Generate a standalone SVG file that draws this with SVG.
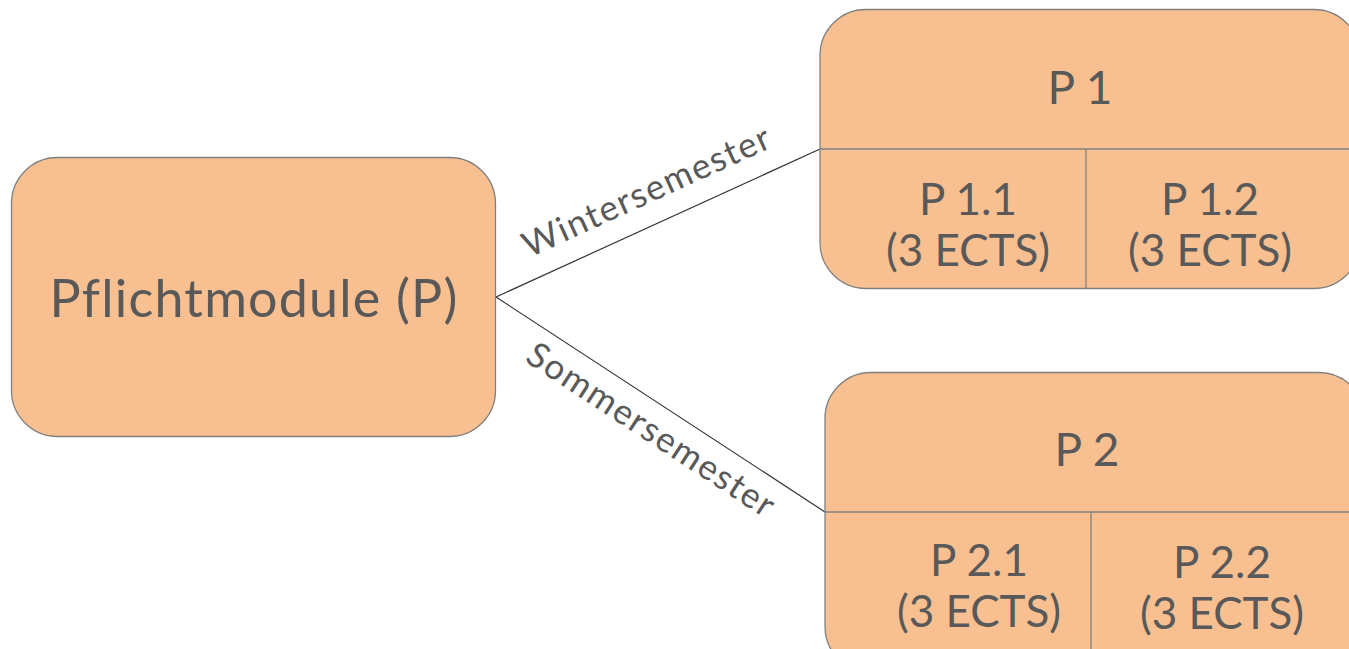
<svg xmlns="http://www.w3.org/2000/svg" width="1349" height="649" viewBox="0 0 1349 649">
<style>
.box{fill:#F8C090;stroke:#808080;stroke-width:1.3}
.div{stroke:#808080;stroke-width:1.3;fill:none}
.t{font-family:Lato,"Open Sans",sans-serif;fill:#595959;text-anchor:middle}
.lbl{letter-spacing:1.6px}
.conn{stroke:#333;stroke-width:1.2;fill:none}
</style>
<rect width="1349" height="649" fill="#fff"/>
<g id="connectors">
<line class="conn" x1="496" y1="297" x2="820" y2="149"/>
<line class="conn" x1="496" y1="297" x2="825" y2="512"/>
<text class="t lbl" font-size="35" transform="translate(652,202) rotate(-24.5)">Wintersemester</text>
<text class="t lbl" font-size="35" transform="translate(645,440) rotate(33.2)">Sommersemester</text>
</g>
<g id="pflicht">
<rect class="box" x="11.5" y="157.5" width="484" height="279" rx="46"/>
<text class="t" font-size="52" letter-spacing="1.2" x="254" y="317">Pflichtmodule (P)</text>
</g>
<g id="p1">
<rect class="box" x="820" y="9.5" width="540" height="279" rx="46"/>
<line class="div" x1="820" y1="149" x2="1349" y2="149"/>
<line class="div" x1="1086" y1="149" x2="1086" y2="288.5"/>
<text class="t" font-size="46" x="1080" y="104">P 1</text>
<text class="t" font-size="44" x="968" y="215">P 1.1</text>
<text class="t" font-size="44" x="968" y="266">(3 ECTS)</text>
<text class="t" font-size="44" x="1210" y="215">P 1.2</text>
<text class="t" font-size="44" x="1210" y="266">(3 ECTS)</text>
</g>
<g id="p2">
<rect class="box" x="825" y="372.5" width="540" height="300" rx="46"/>
<line class="div" x1="825" y1="512" x2="1349" y2="512"/>
<line class="div" x1="1091" y1="512" x2="1091" y2="649"/>
<text class="t" font-size="46" x="1087" y="466">P 2</text>
<text class="t" font-size="44" x="979" y="576">P 2.1</text>
<text class="t" font-size="44" x="979" y="627">(3 ECTS)</text>
<text class="t" font-size="44" x="1222" y="578">P 2.2</text>
<text class="t" font-size="44" x="1222" y="629">(3 ECTS)</text>
</g>
</svg>
